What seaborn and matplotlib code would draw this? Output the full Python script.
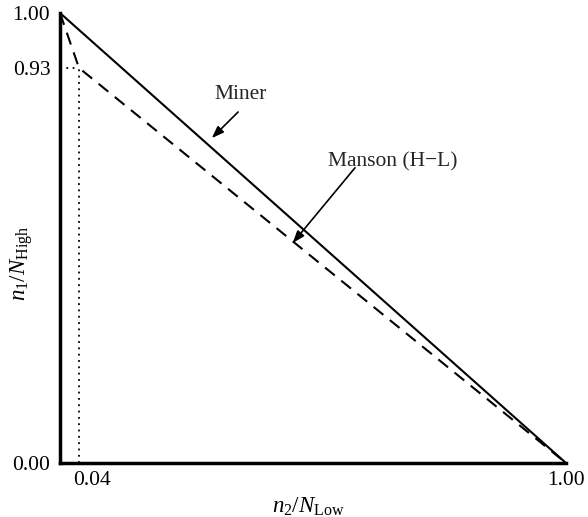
import matplotlib
matplotlib.use("Agg")
import matplotlib.pyplot as plt
import matplotlib.transforms as mtransforms
import seaborn as sns
import pandas as pd

# Data
miner_x = [0.0, 1.0]
miner_y = [1.0, 0.0]
manson_x = [0.0, 0.0375, 1.0]
manson_y = [1.0, 0.878, 0.0]
knee_x = 0.0375
knee_y = 0.878
x_ticks = [0.0375, 1.0]
x_tick_labels = ["0.04", "1.00"]
y_ticks = [0.0, 0.878, 1.0]
y_tick_labels = ["0.00", "0.93", "1.00"]

sns.set_theme(style="white")
plt.rcParams['font.family'] = ['Liberation Serif', 'DejaVu Serif']
plt.rcParams['mathtext.fontset'] = 'custom'
plt.rcParams['mathtext.rm'] = 'Liberation Serif'
plt.rcParams['mathtext.it'] = 'Liberation Serif:italic'

fig = plt.figure(figsize=(5.88, 5.17), dpi=100)
ax = fig.add_axes([60/588, (517-463)/517, (566-60)/588, (463-13)/517])

miner = pd.DataFrame({"x": miner_x, "y": miner_y})
manson = pd.DataFrame({"x": manson_x, "y": manson_y})
sns.lineplot(data=miner, x="x", y="y", ax=ax, color="black", lw=1.5, sort=False)
sns.lineplot(data=manson, x="x", y="y", ax=ax, color="black", lw=1.5, sort=False,
             linestyle=(0, (6, 4)))
ax.plot([0, knee_x], [knee_y, knee_y], color="black", lw=1.3, linestyle=(0, (1, 2.5)))
ax.plot([knee_x, knee_x], [0, knee_y], color="black", lw=1.3, linestyle=(0, (1, 2.5)))

ax.set_xlim(0, 1)
ax.set_ylim(0, 1)
ax.margins(0)
for s in ["top", "right"]:
    ax.spines[s].set_visible(False)
for s in ["left", "bottom"]:
    ax.spines[s].set_linewidth(2.5)
    ax.spines[s].set_color("black")
    ax.spines[s].set_capstyle("projecting")

ax.set_xticks(x_ticks)
ax.set_xticklabels(x_tick_labels)
ax.set_yticks(y_ticks)
ax.set_yticklabels(y_tick_labels)
ax.tick_params(axis="both", length=0, labelsize=15.5, colors="black")
ax.tick_params(axis="x", pad=6)
ax.tick_params(axis="y", pad=7)
lbl = ax.get_xticklabels()[0]
lbl.set_ha("left")
lbl.set_transform(lbl.get_transform() +
                  mtransforms.ScaledTranslation(-6/100, 0, fig.dpi_scale_trans))

ax.set_xlabel(r"$n_2/N_{\mathrm{Low}}$", fontsize=16.5, color="black")
ax.set_ylabel(r"$n_1/N_{\mathrm{High}}$", fontsize=16.5, color="black")
ax.xaxis.set_label_coords(0.49, -0.072)
ax.yaxis.set_label_coords(-0.05, 0.444)

ax.text(0.356, 0.818, "Miner", fontsize=15.5, ha="center", va="center")
ax.annotate("", xy=(0.300, 0.722), xytext=(0.352, 0.780),
            arrowprops=dict(arrowstyle="-|>,head_length=0.6,head_width=0.22",
                            color="black", lw=1.2, shrinkA=0, shrinkB=0))
ax.text(0.658, 0.669, "Manson (H\u2212L)", fontsize=15.5, ha="center", va="center")
ax.annotate("", xy=(0.460, 0.489), xytext=(0.583, 0.656),
            arrowprops=dict(arrowstyle="-|>,head_length=0.6,head_width=0.22",
                            color="black", lw=1.2, shrinkA=0, shrinkB=0))

fig.savefig("out.png", dpi=100)
